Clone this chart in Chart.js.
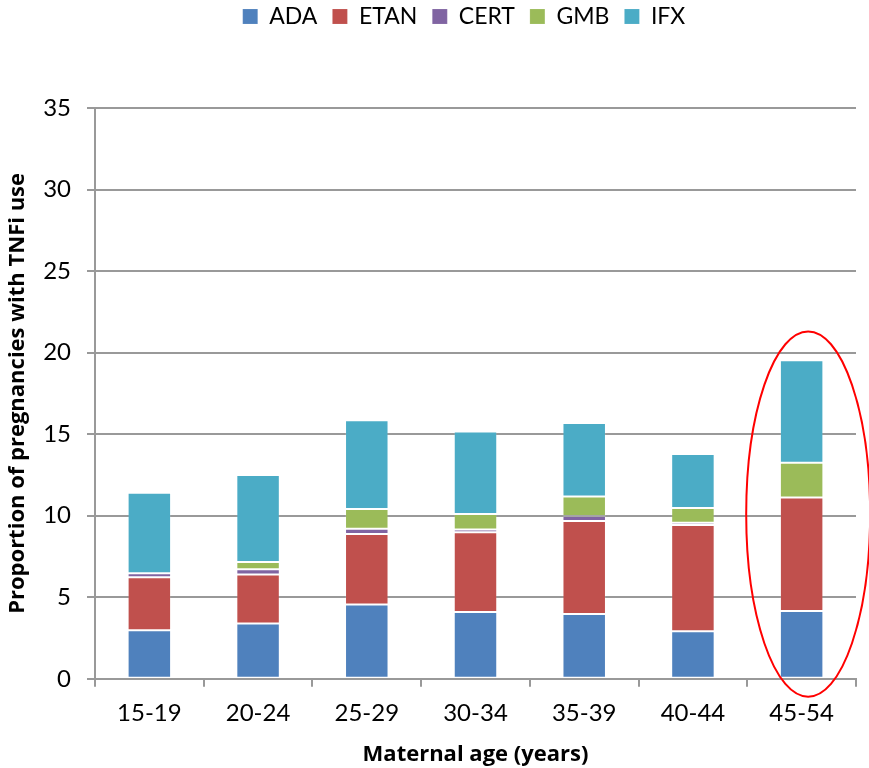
<!DOCTYPE html>
<html>
<head>
<meta charset="utf-8">
<script src="https://cdn.jsdelivr.net/npm/chart.js@4/dist/chart.umd.min.js"></script>
<style>
  html, body { margin: 0; padding: 0; background: #fff; }
  #wrap { width: 869px; height: 768px; }
</style>
</head>
<body>
<div id="wrap"><canvas id="c" width="869" height="768"></canvas></div>
<script>
// Maternal age groups
const ageGroups = ['15-19', '20-24', '25-29', '30-34', '35-39', '40-44', '45-54'];

// Proportion (%) of pregnancies with use of each TNF inhibitor
const ada  = [2.98, 3.39, 4.55, 4.10, 3.98, 2.92, 4.16];
const etan = [3.24, 3.00, 4.33, 4.88, 5.70, 6.51, 6.96];
const cert = [0.25, 0.32, 0.32, 0.18, 0.30, 0.14, 0.00];
const gmb  = [0.00, 0.45, 1.21, 0.94, 1.20, 0.90, 2.13];
const ifx  = [4.94, 5.33, 5.45, 5.06, 4.51, 3.31, 6.28];

const yTicks = [0, 5, 10, 15, 20, 25, 30, 35];

const FONT = "Lato, 'Open Sans', sans-serif";
const TITLE_FONT = "'Open Sans', Lato, sans-serif";
const GRID = '#999999';

// Extra space below the legend, and legend nudged right over the plot
const legendGap = {
  id: 'legendGap',
  beforeInit(chart) {
    const fit = chart.legend.fit;
    chart.legend.fit = function () {
      fit.call(this);
      this.height += 70;
    };
  },
  afterLayout(chart) {
    chart.legend.left += 36;
    chart.legend.right += 36;
  }
};

// Red ellipse around the oldest age group
const highlightPlugin = {
  id: 'highlight',
  afterDatasetsDraw(chart) {
    const { ctx, scales } = chart;
    const idx = ageGroups.length - 1;
    const cx = scales.x.getPixelForValue(idx + 0.06);
    const yTop = scales.y.getPixelForValue(21.3);
    const yBot = scales.y.getPixelForValue(-1.1);
    const halfW = scales.x.getPixelForValue(0.57) - scales.x.getPixelForValue(0);
    ctx.save();
    ctx.strokeStyle = '#ff0000';
    ctx.lineWidth = 2;
    ctx.beginPath();
    ctx.ellipse(cx, (yTop + yBot) / 2, halfW, (yBot - yTop) / 2, 0, 0, Math.PI * 2);
    ctx.stroke();
    ctx.restore();
  }
};

function ds(label, data, color) {
  return {
    label, data,
    backgroundColor: color,
    borderColor: 'rgba(255,255,255,0.12)',
    borderWidth: 1,
    borderSkipped: false,
    barPercentage: 0.4,
    categoryPercentage: 1.0
  };
}

new Chart(document.getElementById('c'), {
  type: 'bar',
  data: {
    labels: ageGroups,
    datasets: [
      ds('ADA', ada, '#4f81bd'),
      ds('ETAN', etan, '#c0504d'),
      ds('CERT', cert, '#8064a2'),
      ds('GMB', gmb, '#9bbb59'),
      ds('IFX', ifx, '#4bacc6')
    ]
  },
  options: {
    responsive: false,
    animation: false,
    layout: { padding: { left: 0, right: 13, top: -10, bottom: 0 } },
    plugins: {
      legend: {
        position: 'top',
        labels: {
          font: { family: FONT, size: 23 },
          color: '#000',
          boxWidth: 15,
          boxHeight: 15,
          padding: 15
        }
      },
      tooltip: { enabled: false }
    },
    scales: {
      x: {
        stacked: true,
        grid: {
          offset: true,
          drawOnChartArea: false,
          color: GRID,
          lineWidth: 2,
          tickLength: 8
        },
        border: { color: GRID, width: 2 },
        ticks: { font: { family: FONT, size: 24 }, color: '#000', padding: 12 },
        title: {
          display: true,
          text: 'Maternal age (years)',
          font: { family: TITLE_FONT, size: 22, weight: 'bold' },
          color: '#000',
          padding: { top: 2, bottom: 0 }
        }
      },
      y: {
        stacked: true,
        min: 0,
        max: 35,
        afterBuildTicks(scale) { scale.ticks = yTicks.map(v => ({ value: v })); },
        afterFit(scale) { scale.width = 95; },
        grid: { color: GRID, lineWidth: 2, tickLength: 8 },
        border: { color: GRID, width: 2 },
        ticks: { font: { family: FONT, size: 24 }, color: '#000', padding: 16 },
        title: {
          display: true,
          text: 'Proportion of pregnancies with TNFi use',
          font: { family: TITLE_FONT, size: 22, weight: 'bold' },
          color: '#000',
          padding: { top: 5, bottom: 0 }
        }
      }
    }
  },
  plugins: [legendGap, highlightPlugin]
});
</script>
</body>
</html>
